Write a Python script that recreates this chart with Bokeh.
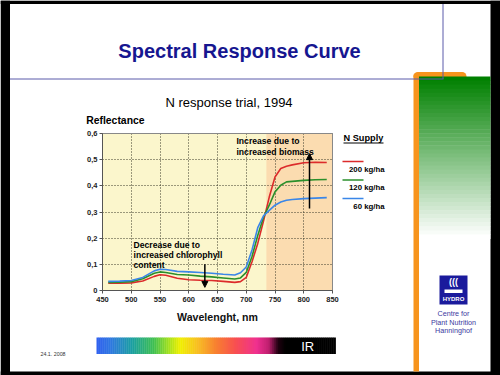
from bokeh.plotting import figure
from bokeh.models import Range1d, FixedTicker, Label, BoxAnnotation, Arrow, NormalHead, Grid
from bokeh.embed import file_html
from bokeh.resources import INLINE

# ---------------- data ----------------
wavelength = [460, 480, 500, 520, 540, 550, 560, 580, 600, 620, 640, 660, 680, 690,
              700, 710, 720, 730, 740, 750, 760, 770, 780, 800, 820, 840]
refl_200 = [0.028, 0.028, 0.029, 0.036, 0.054, 0.060, 0.058, 0.047, 0.041, 0.039, 0.038, 0.035, 0.031, 0.034,
            0.050, 0.110, 0.180, 0.265, 0.357, 0.434, 0.466, 0.475, 0.480, 0.488, 0.490, 0.489]
refl_120 = [0.031, 0.032, 0.034, 0.045, 0.066, 0.071, 0.069, 0.061, 0.059, 0.055, 0.052, 0.048, 0.044, 0.048,
            0.069, 0.130, 0.210, 0.280, 0.326, 0.377, 0.402, 0.415, 0.417, 0.421, 0.423, 0.424]
refl_60 = [0.035, 0.036, 0.038, 0.050, 0.075, 0.081, 0.080, 0.073, 0.071, 0.069, 0.066, 0.062, 0.059, 0.068,
           0.090, 0.155, 0.240, 0.285, 0.306, 0.326, 0.338, 0.345, 0.348, 0.351, 0.353, 0.355]
series_values = [refl_200, refl_120, refl_60]
series_names = ["200 kg/ha", "120 kg/ha", "60 kg/ha"]
series_colors = ["#dc2b2b", "#2b8f2b", "#3a86e8"]

x_ticks = [450, 500, 550, 600, 650, 700, 750, 800, 850]
y_ticks = [0.0, 0.1, 0.2, 0.3, 0.4, 0.5, 0.6]
y_tick_labels = ["0", "0,1", "0,2", "0,3", "0,4", "0,5", "0,6"]
ir_start = 735

slide_title = "Spectral Response Curve"
chart_title = "N response trial, 1994"
y_label = "Reflectance"
x_label = "Wavelenght, nm"
legend_title = "N Supply"
note_up = ["Increase due to", "increased biomass"]
note_down = ["Decrease due to", "increased chlorophyll", "content"]
logo_lines = ["Centre for", "Plant Nutrition", "Hanninghof"]
date_text = "24.1. 2008"

spectrum_stops = [0.00, 0.06, 0.15, 0.24, 0.30, 0.35, 0.42, 0.50, 0.58, 0.67, 0.72, 0.76, 0.79, 1.00]
spectrum_colors = ["#3060f0", "#2f78e0", "#1aa0a0", "#40c050", "#a0e020", "#f0f000", "#f8c020",
                   "#f88030", "#f85050", "#f03090", "#c02070", "#200010", "#000000", "#000000"]

FONT = "Liberation Sans"

# ---------------- layout geometry (slide pixels) ----------------
W, H = 500, 375
OX, OY = 0, 0                        # canvas origin in slide pixels
FL, FR, FT, FB = 102, 332, 133, 290   # chart area in slide pixels
X0, X1 = x_ticks[0], x_ticks[-1]
Y0, Y1 = y_ticks[0], y_ticks[-1]
kx = (X1 - X0) / (FR - FL)
ky = (Y1 - Y0) / (FB - FT)
xr = Range1d(X0 - (FL - OX) * kx, X1 + (OX + W - FR) * kx)
yr = Range1d(Y0 - (OY + H - FB) * ky, Y1 + (FT - OY) * ky)

p = figure(width=W, height=H, x_range=xr, y_range=yr,
           output_backend="svg", toolbar_location=None,
           min_border=0, background_fill_color="white", border_fill_color="white")
p.title.visible = False
p.outline_line_color = None
p.extra_x_ranges = {"px": Range1d(OX, OX + W)}
p.extra_y_ranges = {"px": Range1d(OY + H, OY)}
PX = dict(x_range_name="px", y_range_name="px")

# chart background
p.add_layout(BoxAnnotation(left=X0, right=X1, bottom=Y0, top=Y1, fill_color="#fbf6cc", fill_alpha=1,
                           line_color=None, level="image"))
p.add_layout(BoxAnnotation(left=ir_start, right=X1, bottom=Y0, top=Y1, fill_color="#fbdcb0", fill_alpha=1,
                           line_color=None, level="image"))

xt = FixedTicker(ticks=x_ticks)
yt = FixedTicker(ticks=y_ticks)
p.xaxis.ticker = xt
p.yaxis.ticker = yt
p.xaxis.fixed_location = Y0
p.yaxis.fixed_location = X0
p.xaxis.bounds = (X0, X1)
p.yaxis.bounds = (Y0, Y1)

if "cross_bounds" in Grid.properties():
    p.xgrid.ticker = xt
    p.ygrid.ticker = yt
    p.xgrid.bounds = (X0, X1)
    p.ygrid.bounds = (Y0, Y1)
    p.xgrid.cross_bounds = (Y0, Y1)
    p.ygrid.cross_bounds = (X0, X1)
    p.grid.grid_line_color = "#3a3a2a"
    p.grid.grid_line_dash = "1 2"
    p.grid.grid_line_width = 1
else:
    p.grid.visible = False
    p.segment(x0=x_ticks, y0=Y0, x1=x_ticks, y1=Y1, line_color="#3a3a2a", line_dash="1 2", level="underlay")
    p.segment(x0=X0, y0=y_ticks, x1=X1, y1=y_ticks, line_color="#3a3a2a", line_dash="1 2", level="underlay")

# frame outline
p.add_layout(BoxAnnotation(left=X0, right=X1, bottom=Y0, top=Y1, fill_alpha=0,
                           line_color="#888888", line_alpha=1, line_width=1, level="underlay"))

p.yaxis.major_label_overrides = {t: l for t, l in zip(y_ticks, y_tick_labels)}
for ax in (p.xaxis, p.yaxis):
    ax.axis_line_color = "#555555"
    ax.major_tick_line_color = "#555555"
    ax.major_tick_out = 3
    ax.major_tick_in = 0
    ax.minor_tick_line_color = None
    ax.major_label_text_font = FONT
    ax.major_label_text_font_style = "bold"
    ax.major_label_text_font_size = "7.5px"
    ax.major_label_text_color = "#222222"
p.yaxis.major_label_standoff = 2
p.xaxis.major_label_standoff = 3
p.xaxis.axis_label = x_label
p.xaxis.axis_label_text_font = FONT
p.xaxis.axis_label_text_font_style = "bold"
p.xaxis.axis_label_text_font_size = "10.6px"
p.xaxis.axis_label_text_color = "#111111"
p.xaxis.axis_label_standoff = 6

for vals, col in zip(series_values, series_colors):
    p.line(wavelength, vals, line_color=col, line_width=1.6)


def box(l, r, t, b, color, **kw):
    p.add_layout(BoxAnnotation(left=l, right=r, top=t, bottom=b, fill_color=color, fill_alpha=1,
                               line_color=None, **PX, **kw))


def seg(x0, y0, x1, y1, color, w=1.0):
    p.add_layout(Arrow(x_start=x0, y_start=y0, x_end=x1, y_end=y1, end=None,
                       line_color=color, line_width=w, **PX))


def text(x, y, s, size, color="black", style="normal", align="left", units="px"):
    kw = PX if units == "px" else {}
    p.add_layout(Label(x=x, y=y, text=s, text_font=FONT, text_font_size=f"{size}px",
                       text_font_style=style, text_color=color, text_align=align,
                       text_baseline="middle", **kw))


def hex2rgb(h):
    return tuple(int(h[i:i + 2], 16) for i in (1, 3, 5))


def interp(stops, colors, t):
    for i in range(len(stops) - 1):
        if stops[i] <= t <= stops[i + 1]:
            f = (t - stops[i]) / (stops[i + 1] - stops[i]) if stops[i + 1] > stops[i] else 0
            a, b = hex2rgb(colors[i]), hex2rgb(colors[i + 1])
            return "#%02x%02x%02x" % tuple(round(a[k] + (b[k] - a[k]) * f) for k in range(3))
    return colors[-1]


# --- slide decorations ---
box(0, 9.5, 0, 380, "black")
box(490, 500, 0, 380, "black")
box(0, 500, 0, 3.5, "black")
box(0, 500, 371, 380, "black")

# orange tab + strip
box(413, 466, 71.5, 80, "#f7941d", border_radius=5)
box(413, 418.5, 74, 371, "#f7941d")
# green gradient box
n_g = 40
g_top, g_bot = 76.0, 238.0
for i in range(n_g):
    t0 = g_top + (g_bot - g_top) * i / n_g
    t1 = g_top + (g_bot - g_top) * (i + 1) / n_g
    box(418.5, 490, t0, t1 + 0.5, interp([0, 1], ["#008000", "#ffffff"], i / (n_g - 1)))

# blue header lines
seg(9.5, 78.5, 443, 78.5, "#5a5aaa", 1)
seg(442.5, 3.5, 442.5, 78.5, "#5a5aaa", 1)

# titles
text(239, 50, slide_title, 20, color="#161690", style="bold", align="center")
text(228.5, 101.5, chart_title, 13, align="center")
text(85.7, 120, y_label, 10.4, style="bold")

# annotations (data units)
for i, s in enumerate(note_up):
    text(683, 0.573 - 0.042 * i, s, 8.6, style="bold", units="data")
for i, s in enumerate(note_down):
    text(504, 0.172 - 0.037 * i, s, 8.6, style="bold", units="data")
p.add_layout(Arrow(x_start=810, y_start=0.313, x_end=810, y_end=0.523, line_width=1.5, line_color="black",
                   end=NormalHead(size=6, fill_color="black", line_color="black")))
p.add_layout(Arrow(x_start=628, y_start=0.100, x_end=628, y_end=0.012, line_width=1.5, line_color="black",
                   end=NormalHead(size=6, fill_color="black", line_color="black")))

# legend
text(343, 137, legend_title, 9.2, style="bold")
seg(343, 142.5, 383, 142.5, "black", 1)
for i, (name, col) in enumerate(zip(series_names, series_colors)):
    ly = 161 + 18.5 * i
    seg(342, ly, 363, ly, col, 1.6)
    text(384, ly + 7.8, name, 7.8, style="bold", align="right")

# logo
box(439, 467, 275, 304, "#1a1a9c")
text(453, 281, "(((", 9, color="white", style="bold", align="center")
box(444, 462, 289, 292.5, "white")
text(453, 298.5, "HYDRO", 6, color="white", style="bold", align="center")
for i, s in enumerate(logo_lines):
    text(453, 313 + 8.5 * i, s, 7.2, color="#3a3aa0", align="center")

# date
text(40, 353.5, date_text, 5.3, color="#333333")

# spectrum bar
s_left, s_right, s_top, s_bot = 96.0, 335.0, 337.0, 353.5
n_s = 120
for i in range(n_s):
    x0 = s_left + (s_right - s_left) * i / n_s
    x1 = s_left + (s_right - s_left) * (i + 1) / n_s
    box(x0, x1 + 0.4, s_top, s_bot, interp(spectrum_stops, spectrum_colors, (i + 0.5) / n_s))
text(300.7, 345.5, "IR", 13, color="white")

open("out.html", "w").write(file_html(p, INLINE))
